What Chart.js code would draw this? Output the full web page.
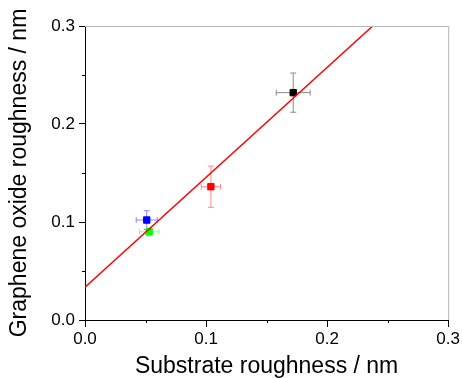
<!DOCTYPE html>
<html>
<head>
<meta charset="utf-8">
<script src="https://cdn.jsdelivr.net/npm/chart.js@4"></script>
<style>
  html, body { margin: 0; padding: 0; background: #fff; }
</style>
</head>
<body>
<canvas id="chartCanvas" width="462" height="378"></canvas>
<script>
//Chart data
const sampleNames = ['Sample A', 'Sample B', 'Sample C', 'Sample D']
const substrateRoughness = [0.172, 0.104, 0.051, 0.053]
const grapheneRoughness = [0.232, 0.136, 0.102, 0.090]
const substrateError = [0.014, 0.008, 0.0087, 0.008]
const grapheneError = [0.020, 0.021, 0.0095, 0.004]
const pointColors = ['#000000', '#ff0000', '#0000ff', '#00ff00']
const errorColors = ['#8a8a8a', '#ff8a8a', '#8a8aff', '#8aff8a']

//Linear fit end points
const fitX = [0, 0.2377]
const fitY = [0.0334, 0.3]

const axisTicks = [0, 0.1, 0.2, 0.3]
const minorTicks = [0.05, 0.15, 0.25]

Chart.defaults.font.family = "'Liberation Sans', Arial, sans-serif";
Chart.defaults.color = '#000';

//Error bars, drawn through the chart scales
const errorBarPlugin = {
    id: 'errorBars',
    beforeDatasetsDraw(chart)
    {
        const {ctx, scales: {x, y}} = chart;
        const cap = 3;
        ctx.save();
        ctx.lineWidth = 1;
        substrateRoughness.forEach((sx, i) =>
        {
            const px = x.getPixelForValue(sx);
            const py = y.getPixelForValue(grapheneRoughness[i]);
            const x1 = x.getPixelForValue(sx - substrateError[i]);
            const x2 = x.getPixelForValue(sx + substrateError[i]);
            const y1 = y.getPixelForValue(grapheneRoughness[i] + grapheneError[i]);
            const y2 = y.getPixelForValue(grapheneRoughness[i] - grapheneError[i]);
            ctx.strokeStyle = errorColors[i];
            ctx.beginPath();
            ctx.moveTo(x1, py); ctx.lineTo(x2, py);
            ctx.moveTo(x1, py - cap); ctx.lineTo(x1, py + cap);
            ctx.moveTo(x2, py - cap); ctx.lineTo(x2, py + cap);
            ctx.moveTo(px, y1); ctx.lineTo(px, y2);
            ctx.moveTo(px - cap, y1); ctx.lineTo(px + cap, y1);
            ctx.moveTo(px - cap, y2); ctx.lineTo(px + cap, y2);
            ctx.stroke();
        });
        ctx.restore();
    }
};

//Grey top/right frame and short minor ticks
const framePlugin = {
    id: 'frame',
    afterDraw(chart)
    {
        const {ctx, chartArea: a, scales: {x, y}} = chart;
        ctx.save();
        ctx.strokeStyle = '#b4b4b4';
        ctx.lineWidth = 1;
        ctx.beginPath();
        ctx.moveTo(a.left, a.top + 0.5); ctx.lineTo(a.right + 0.5, a.top + 0.5);
        ctx.lineTo(a.right + 0.5, a.bottom);
        ctx.stroke();
        ctx.strokeStyle = '#000';
        ctx.beginPath();
        minorTicks.forEach(v =>
        {
            const px = Math.round(x.getPixelForValue(v)) + 0.5;
            ctx.moveTo(px, a.bottom); ctx.lineTo(px, a.bottom + 3);
            const py = Math.round(y.getPixelForValue(v)) + 0.5;
            ctx.moveTo(a.left, py); ctx.lineTo(a.left - 3, py);
        });
        ctx.stroke();
        ctx.restore();
    }
};

const chartCanvas = document.getElementById('chartCanvas');
const scatterChart = new Chart(
    chartCanvas,
    {
        type: 'scatter',
        data:
        {
            datasets:
                [{
                    type: 'line',
                    label: 'Linear fit',
                    data: fitX.map((v, i) => ({x: v, y: fitY[i]})),
                    borderColor: '#ff0000',
                    borderWidth: 1.5,
                    pointRadius: 0,
                    fill: false,
                    order: 0
                },
                {
                    label: 'Samples',
                    data: substrateRoughness.map((v, i) => ({x: v, y: grapheneRoughness[i], name: sampleNames[i]})),
                    backgroundColor: pointColors,
                    borderColor: pointColors,
                    pointStyle: 'rect',
                    pointRadius: 4.5,
                    order: 1
                }]
        },
        options:
        {
            responsive: false,
            animation: false,
            layout:
            {
                padding: {top: 26, right: 13, left: 0, bottom: 0}
            },
            scales:
            {
                x:
                {
                    type: 'linear',
                    min: 0,
                    max: 0.3,
                    afterBuildTicks: scale => { scale.ticks = axisTicks.map(v => ({value: v})) },
                    afterFit: scale => { scale.height = 58 },
                    ticks:
                    {
                        font: {size: 17},
                        padding: 2,
                        callback: v => v.toFixed(1)
                    },
                    grid:
                    {
                        drawOnChartArea: false,
                        tickLength: 7,
                        tickColor: '#000'
                    },
                    border: {color: '#000', width: 1},
                    title:
                    {
                        display: true,
                        text: 'Substrate roughness / nm',
                        font: {size: 23, lineHeight: 1},
                        padding: {top: 0, bottom: 0}
                    }
                },
                y:
                {
                    type: 'linear',
                    min: 0,
                    max: 0.3,
                    afterBuildTicks: scale => { scale.ticks = axisTicks.map(v => ({value: v})) },
                    afterFit: scale => { scale.width = 85 },
                    ticks:
                    {
                        font: {size: 17},
                        padding: 4,
                        callback: v => v.toFixed(1)
                    },
                    grid:
                    {
                        drawOnChartArea: false,
                        tickLength: 6,
                        tickColor: '#000'
                    },
                    border: {color: '#000', width: 1},
                    title:
                    {
                        display: true,
                        text: 'Graphene oxide roughness / nm',
                        font: {size: 23, lineHeight: 1},
                        padding: {top: 8, bottom: 0}
                    }
                }
            },
            plugins:
            {
                legend: {display: false},
                tooltip: {enabled: false}
            }
        },
        plugins: [errorBarPlugin, framePlugin]
    }
);
</script>
</body>
</html>
